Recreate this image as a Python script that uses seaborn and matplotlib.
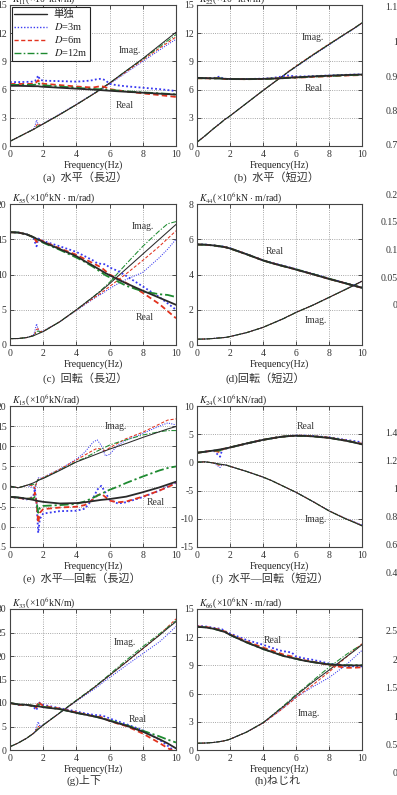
import matplotlib
matplotlib.use("Agg")
import matplotlib.pyplot as plt
from matplotlib.lines import Line2D
import pandas as pd
import seaborn as sns

# frequency grid (Hz)
freq = [0, 0.5, 1, 1.4, 1.5, 1.6, 1.7, 1.8, 2, 3, 4, 4.5, 5, 5.25, 5.5, 5.75, 6, 6.5, 7, 8, 9, 9.5, 10]

# (a) K11 horizontal, long side
a_re_single = [6.40, 6.40, 6.38, 6.36, 6.36, 6.36, 6.36, 6.33, 6.30, 6.20, 6.10, 6.05, 6.00, 5.97, 5.94, 5.91, 5.88, 5.82, 5.77, 5.67, 5.57, 5.52, 5.47]
a_re_d3 = [6.80, 6.80, 6.82, 6.85, 6.90, 7.15, 7.50, 7.05, 6.95, 6.90, 6.85, 6.90, 7.00, 7.12, 7.15, 7.00, 6.60, 6.45, 6.35, 6.20, 6.05, 5.95, 5.85]
a_re_d6 = [6.60, 6.60, 6.60, 6.62, 6.65, 6.80, 7.00, 6.72, 6.62, 6.48, 6.33, 6.27, 6.22, 6.30, 6.38, 6.25, 6.05, 5.92, 5.80, 5.60, 5.42, 5.32, 5.22]
a_re_d12 = [6.50, 6.50, 6.50, 6.50, 6.52, 6.60, 6.72, 6.52, 6.46, 6.32, 6.20, 6.12, 6.07, 6.05, 6.04, 6.00, 5.96, 5.90, 5.82, 5.70, 5.60, 5.55, 5.48]
a_im_single = [0.50, 0.95, 1.40, 1.75, 1.85, 1.95, 2.05, 2.15, 2.35, 3.35, 4.40, 4.95, 5.50, 5.80, 6.10, 6.40, 6.70, 7.35, 8.00, 9.30, 10.70, 11.40, 12.10]
a_im_d3 = [0.50, 0.95, 1.40, 1.80, 2.10, 2.75, 2.30, 2.20, 2.40, 3.40, 4.45, 5.00, 5.55, 5.80, 6.00, 6.30, 6.60, 7.20, 7.80, 9.00, 10.20, 10.80, 11.35]
a_im_d6 = [0.50, 0.95, 1.40, 1.75, 1.90, 2.20, 2.40, 2.20, 2.35, 3.35, 4.40, 4.95, 5.50, 5.75, 6.00, 6.40, 6.65, 7.30, 7.90, 9.15, 10.40, 11.00, 11.60]
a_im_d12 = [0.50, 0.95, 1.40, 1.75, 1.85, 2.00, 2.15, 2.15, 2.35, 3.35, 4.40, 4.95, 5.50, 5.80, 6.10, 6.40, 6.70, 7.35, 8.00, 9.25, 10.55, 11.20, 11.85]

# (b) K22 horizontal, short side
b_re_single = [7.25, 7.22, 7.20, 7.18, 7.17, 7.16, 7.15, 7.14, 7.13, 7.12, 7.14, 7.17, 7.20, 7.22, 7.25, 7.28, 7.30, 7.35, 7.40, 7.48, 7.55, 7.58, 7.60]
b_re_d3 = [7.25, 7.22, 7.22, 7.40, 7.25, 7.15, 7.15, 7.14, 7.13, 7.13, 7.16, 7.22, 7.35, 7.45, 7.50, 7.45, 7.40, 7.40, 7.43, 7.50, 7.57, 7.60, 7.62]
b_re_d6 = [7.20, 7.20, 7.18, 7.25, 7.18, 7.14, 7.13, 7.12, 7.12, 7.11, 7.13, 7.16, 7.20, 7.24, 7.30, 7.30, 7.28, 7.30, 7.35, 7.42, 7.50, 7.52, 7.55]
b_re_d12 = [7.22, 7.20, 7.19, 7.20, 7.17, 7.15, 7.14, 7.13, 7.12, 7.11, 7.13, 7.16, 7.20, 7.22, 7.25, 7.27, 7.28, 7.33, 7.38, 7.45, 7.52, 7.55, 7.58]
b_im_single = [0.40, 1.10, 1.85, 2.40, 2.55, 2.70, 2.85, 2.95, 3.20, 4.55, 5.90, 6.55, 7.20, 7.50, 7.85, 8.15, 8.45, 9.05, 9.65, 10.80, 11.95, 12.50, 13.10]
b_im_d3 = [0.40, 1.10, 1.85, 2.45, 2.55, 2.70, 2.85, 2.95, 3.20, 4.55, 5.90, 6.55, 7.20, 7.50, 7.80, 8.10, 8.40, 9.00, 9.60, 10.75, 11.90, 12.45, 13.05]
b_im_d6 = [0.40, 1.10, 1.85, 2.40, 2.55, 2.70, 2.85, 2.95, 3.20, 4.55, 5.90, 6.55, 7.20, 7.52, 7.88, 8.20, 8.50, 9.10, 9.70, 10.85, 11.95, 12.50, 13.10]
b_im_d12 = [0.40, 1.10, 1.85, 2.40, 2.55, 2.70, 2.85, 2.95, 3.20, 4.55, 5.90, 6.55, 7.20, 7.50, 7.85, 8.15, 8.47, 9.07, 9.67, 10.82, 11.95, 12.50, 13.10]

# (c) K55 rocking, long side
c_re_single = [16.00, 15.95, 15.70, 15.30, 15.20, 15.05, 14.95, 14.85, 14.60, 13.60, 12.60, 11.90, 11.25, 10.90, 10.55, 10.20, 9.90, 9.30, 8.75, 7.70, 6.70, 6.20, 5.70]
c_re_d3 = [16.00, 15.95, 15.70, 15.30, 14.60, 14.00, 15.10, 15.00, 14.75, 14.00, 13.20, 12.60, 12.00, 11.60, 11.50, 11.45, 11.00, 10.50, 9.80, 8.30, 6.80, 5.90, 5.00]
c_re_d6 = [16.00, 15.95, 15.70, 15.30, 15.00, 14.60, 15.00, 14.90, 14.70, 13.70, 12.80, 12.20, 11.60, 11.30, 11.00, 10.50, 10.00, 9.40, 8.80, 7.40, 5.80, 4.80, 3.80]
c_re_d12 = [16.00, 15.95, 15.70, 15.30, 15.15, 14.90, 14.95, 14.80, 14.50, 13.50, 12.40, 11.80, 11.10, 10.70, 10.30, 9.90, 9.60, 9.00, 8.40, 7.60, 7.20, 7.10, 6.80]
c_im_single = [0.90, 0.92, 1.05, 1.30, 1.40, 1.50, 1.60, 1.70, 1.90, 3.30, 5.00, 5.90, 6.80, 7.25, 7.70, 8.20, 8.70, 9.75, 10.80, 12.90, 15.00, 16.05, 17.10]
c_im_d3 = [0.90, 0.92, 1.05, 1.40, 2.00, 3.00, 2.20, 1.90, 2.00, 3.30, 4.90, 5.70, 6.50, 6.90, 7.20, 7.60, 8.00, 8.70, 9.30, 10.30, 12.40, 13.60, 15.00]
c_im_d6 = [0.90, 0.92, 1.05, 1.35, 1.60, 2.20, 2.30, 1.90, 1.95, 3.30, 4.95, 5.80, 6.60, 7.00, 7.40, 7.85, 8.30, 9.20, 10.10, 12.00, 14.00, 15.10, 16.20]
c_im_d12 = [0.90, 0.92, 1.05, 1.30, 1.45, 1.90, 2.00, 1.80, 1.90, 3.30, 5.00, 5.90, 6.80, 7.30, 7.80, 8.35, 8.90, 10.20, 11.50, 14.00, 16.20, 17.20, 17.50]

# (d) K44 rocking, short side
d_re_single = [5.70, 5.69, 5.65, 5.60, 5.58, 5.57, 5.55, 5.53, 5.48, 5.15, 4.80, 4.66, 4.53, 4.47, 4.41, 4.35, 4.28, 4.15, 4.02, 3.75, 3.50, 3.37, 3.25]
d_re_d3 = [5.72, 5.70, 5.66, 5.58, 5.60, 5.58, 5.56, 5.54, 5.49, 5.16, 4.81, 4.67, 4.55, 4.49, 4.43, 4.37, 4.30, 4.17, 4.04, 3.77, 3.51, 3.38, 3.25]
d_re_d6 = [5.70, 5.69, 5.65, 5.59, 5.58, 5.57, 5.55, 5.53, 5.48, 5.15, 4.80, 4.66, 4.53, 4.47, 4.41, 4.35, 4.28, 4.15, 4.02, 3.75, 3.50, 3.37, 3.24]
d_re_d12 = [5.70, 5.69, 5.65, 5.60, 5.58, 5.57, 5.55, 5.53, 5.48, 5.15, 4.80, 4.66, 4.53, 4.47, 4.41, 4.35, 4.29, 4.16, 4.03, 3.76, 3.50, 3.37, 3.25]
d_im_single = [0.33, 0.34, 0.37, 0.40, 0.41, 0.42, 0.43, 0.44, 0.48, 0.70, 1.00, 1.20, 1.40, 1.50, 1.62, 1.73, 1.85, 2.05, 2.25, 2.70, 3.15, 3.38, 3.62]
d_im_d3 = [0.33, 0.34, 0.37, 0.44, 0.41, 0.42, 0.43, 0.44, 0.48, 0.70, 1.00, 1.20, 1.40, 1.51, 1.63, 1.74, 1.86, 2.06, 2.26, 2.71, 3.16, 3.39, 3.63]
d_im_d6 = [0.33, 0.34, 0.37, 0.41, 0.41, 0.42, 0.43, 0.44, 0.48, 0.70, 1.00, 1.20, 1.40, 1.50, 1.62, 1.73, 1.85, 2.05, 2.25, 2.70, 3.15, 3.38, 3.62]
d_im_d12 = [0.33, 0.34, 0.37, 0.40, 0.41, 0.42, 0.43, 0.44, 0.48, 0.70, 1.00, 1.20, 1.40, 1.50, 1.62, 1.73, 1.85, 2.05, 2.25, 2.70, 3.15, 3.38, 3.61]

# (e) K15 sway-rocking, long side
e_re_single = [-2.55, -2.70, -3.00, -3.30, -3.40, -3.50, -3.60, -3.65, -3.80, -4.20, -4.10, -3.90, -3.60, -3.45, -3.30, -3.20, -3.10, -2.80, -2.50, -1.40, -0.20, 0.50, 1.20]
e_re_d3 = [-2.55, -2.80, -3.20, -2.50, -0.50, -4.00, -11.50, -8.00, -6.70, -6.10, -6.00, -5.50, -3.00, -0.80, 0.20, -1.50, -3.30, -4.20, -3.90, -2.60, -1.00, 0.00, 1.00]
e_re_d6 = [-2.55, -2.80, -3.10, -2.80, -1.50, -4.00, -9.00, -6.50, -5.60, -5.20, -5.00, -4.60, -3.20, -2.20, -1.80, -2.60, -3.50, -3.90, -3.70, -2.50, -1.00, -0.10, 0.80]
e_re_d12 = [-2.55, -2.75, -3.00, -3.00, -2.50, -3.80, -6.50, -5.30, -4.80, -4.60, -4.30, -3.70, -2.80, -2.30, -1.80, -1.30, -0.80, 0.00, 0.90, 2.50, 4.00, 4.60, 5.00]
e_im_single = [0.10, -0.30, 0.30, 0.90, 1.10, 1.30, 1.50, 1.70, 2.00, 4.00, 6.10, 6.90, 7.70, 8.10, 8.50, 8.90, 9.30, 10.00, 10.70, 12.20, 13.60, 14.30, 14.90]
e_im_d3 = [0.10, -0.30, 0.30, -0.30, -1.00, 1.00, 2.20, 2.00, 2.30, 4.30, 6.80, 8.50, 11.00, 11.60, 10.20, 7.60, 8.00, 10.30, 11.50, 13.20, 15.00, 15.80, 15.30]
e_im_d6 = [0.10, -0.30, 0.30, 0.30, -0.50, 1.00, 1.80, 1.90, 2.20, 4.30, 6.60, 7.80, 9.00, 9.50, 9.30, 8.90, 9.60, 10.80, 11.90, 13.50, 15.50, 16.50, 16.80]
e_im_d12 = [0.10, -0.30, 0.30, 0.60, 0.20, 1.20, 1.70, 1.80, 2.10, 4.10, 6.20, 7.10, 8.20, 8.80, 9.30, 9.80, 10.30, 11.00, 11.60, 12.80, 13.60, 13.90, 13.90]

# (f) K24 sway-rocking, short side
f_re_single = [1.70, 1.90, 2.10, 2.30, 2.35, 2.40, 2.45, 2.50, 2.65, 3.35, 4.00, 4.25, 4.50, 4.58, 4.65, 4.70, 4.72, 4.70, 4.62, 4.35, 3.85, 3.55, 3.20]
f_re_d3 = [1.70, 1.90, 2.10, 1.00, 2.00, 2.40, 2.45, 2.50, 2.65, 3.35, 4.00, 4.25, 4.50, 4.58, 4.65, 4.72, 4.75, 4.75, 4.70, 4.45, 4.00, 3.80, 3.55]
f_re_d6 = [1.70, 1.90, 2.10, 1.80, 2.20, 2.40, 2.45, 2.50, 2.65, 3.35, 4.00, 4.25, 4.50, 4.58, 4.65, 4.70, 4.73, 4.72, 4.65, 4.38, 3.90, 3.60, 3.30]
f_re_d12 = [1.70, 1.90, 2.10, 2.10, 2.30, 2.40, 2.45, 2.50, 2.65, 3.35, 4.00, 4.25, 4.50, 4.58, 4.65, 4.70, 4.72, 4.70, 4.63, 4.36, 3.87, 3.57, 3.25]
f_im_single = [0.05, 0.10, -0.10, -0.30, -0.35, -0.40, -0.45, -0.50, -0.70, -1.60, -2.60, -3.20, -3.90, -4.25, -4.60, -4.95, -5.30, -6.10, -6.90, -8.60, -10.00, -10.60, -11.25]
f_im_d3 = [0.05, 0.10, -0.10, -0.90, -0.45, -0.40, -0.45, -0.50, -0.70, -1.60, -2.60, -3.20, -3.90, -4.25, -4.60, -4.95, -5.30, -6.10, -6.90, -8.55, -9.90, -10.50, -11.10]
f_im_d6 = [0.05, 0.10, -0.10, -0.60, -0.40, -0.40, -0.45, -0.50, -0.70, -1.60, -2.60, -3.20, -3.90, -4.25, -4.60, -4.95, -5.30, -6.10, -6.90, -8.58, -9.95, -10.55, -11.20]
f_im_d12 = [0.05, 0.10, -0.10, -0.40, -0.37, -0.40, -0.45, -0.50, -0.70, -1.60, -2.60, -3.20, -3.90, -4.25, -4.60, -4.95, -5.30, -6.10, -6.90, -8.60, -10.00, -10.60, -11.25]

# (g) K33 vertical
g_re_single = [10.00, 9.70, 9.60, 9.40, 9.35, 9.30, 9.30, 9.25, 9.10, 8.70, 7.90, 7.55, 7.20, 7.00, 6.75, 6.50, 6.20, 5.70, 5.20, 3.90, 2.30, 1.40, 0.35]
g_re_d3 = [10.00, 9.60, 9.60, 9.30, 8.80, 8.50, 10.20, 10.00, 9.60, 8.90, 8.20, 7.80, 7.50, 7.40, 7.35, 7.10, 6.70, 6.10, 5.50, 4.20, 2.20, 0.90, -0.50]
g_re_d6 = [10.00, 9.60, 9.60, 9.35, 9.00, 9.10, 10.30, 9.90, 9.40, 8.80, 8.00, 7.60, 7.20, 7.10, 7.00, 6.60, 6.20, 5.60, 5.10, 3.50, 1.50, 0.40, -0.50]
g_re_d12 = [10.00, 9.70, 9.60, 9.40, 9.30, 9.30, 9.70, 9.50, 9.20, 8.70, 7.90, 7.55, 7.20, 7.00, 6.80, 6.55, 6.30, 5.80, 5.30, 4.10, 2.90, 2.20, 1.60]
g_im_single = [0.70, 1.50, 2.50, 3.50, 3.80, 4.10, 4.40, 4.70, 5.30, 7.90, 10.50, 11.80, 13.10, 13.80, 14.50, 15.20, 15.90, 17.30, 18.70, 21.60, 24.40, 25.90, 27.30]
g_im_d3 = [0.70, 1.50, 2.50, 3.50, 3.90, 5.00, 6.00, 5.00, 5.40, 7.90, 10.40, 11.60, 12.80, 13.40, 14.10, 14.80, 15.40, 16.70, 18.00, 20.50, 23.00, 24.60, 26.30]
g_im_d6 = [0.70, 1.50, 2.50, 3.50, 3.85, 4.40, 5.00, 4.80, 5.30, 7.90, 10.50, 11.80, 13.10, 13.80, 14.50, 15.20, 15.90, 17.30, 18.70, 21.50, 24.50, 26.20, 27.90]
g_im_d12 = [0.70, 1.50, 2.50, 3.50, 3.80, 4.20, 4.60, 4.70, 5.30, 7.95, 10.60, 11.90, 13.20, 13.90, 14.60, 15.35, 16.10, 17.60, 19.10, 22.00, 24.70, 26.10, 27.50]

# (h) K66 torsion
h_re_single = [13.10, 13.05, 12.90, 12.70, 12.65, 12.60, 12.55, 12.45, 12.25, 11.45, 10.75, 10.45, 10.15, 10.00, 9.90, 9.80, 9.70, 9.50, 9.35, 9.10, 9.00, 9.00, 9.00]
h_re_d3 = [13.20, 13.15, 13.00, 12.90, 12.85, 12.75, 12.65, 12.55, 12.40, 11.70, 11.20, 10.90, 10.60, 10.50, 10.45, 10.35, 9.95, 9.75, 9.60, 9.20, 8.95, 8.90, 8.90]
h_re_d6 = [13.15, 13.10, 12.95, 12.80, 12.75, 12.65, 12.60, 12.50, 12.30, 11.55, 10.90, 10.60, 10.30, 10.15, 10.05, 9.95, 9.75, 9.55, 9.40, 9.05, 8.75, 8.75, 8.80]
h_re_d12 = [13.10, 13.05, 12.90, 12.72, 12.66, 12.60, 12.55, 12.45, 12.25, 11.45, 10.75, 10.45, 10.15, 10.00, 9.90, 9.80, 9.70, 9.50, 9.35, 9.12, 9.02, 9.02, 9.02]
h_im_single = [0.72, 0.74, 0.80, 0.90, 0.93, 0.96, 1.00, 1.04, 1.15, 1.90, 2.90, 3.60, 4.30, 4.65, 5.00, 5.40, 5.80, 6.50, 7.20, 8.50, 9.85, 10.50, 11.20]
h_im_d3 = [0.72, 0.74, 0.80, 0.90, 0.93, 0.96, 1.00, 1.04, 1.15, 1.90, 2.85, 3.50, 4.15, 4.50, 4.85, 5.20, 5.60, 6.15, 6.70, 7.70, 9.00, 9.80, 10.60]
h_im_d6 = [0.72, 0.74, 0.80, 0.90, 0.93, 0.96, 1.00, 1.04, 1.15, 1.90, 2.85, 3.50, 4.15, 4.50, 4.85, 5.20, 5.60, 6.25, 6.90, 8.30, 9.80, 10.60, 11.30]
h_im_d12 = [0.72, 0.74, 0.80, 0.90, 0.93, 0.96, 1.00, 1.04, 1.15, 1.90, 2.90, 3.60, 4.35, 4.72, 5.10, 5.50, 5.90, 6.60, 7.35, 8.80, 10.10, 10.70, 11.20]

series_names = ["単独", "$D$=3m", "$D$=6m", "$D$=12m"]
xticks = [0, 2, 4, 6, 8, 10]
yticks_a = [0, 3, 6, 9, 12, 15]
yticks_b = [0, 3, 6, 9, 12, 15]
yticks_c = [0, 5, 10, 15, 20]
yticks_d = [0, 2, 4, 6, 8]
yticks_e = [-15, -10, -5, 0, 5, 10, 15, 20]
yticks_f = [-15, -10, -5, 0, 5, 10]
yticks_g = [0, 5, 10, 15, 20, 25, 30]
yticks_h = [0, 3, 6, 9, 12, 15]

# tick labels of the neighbouring (cropped) column
side_ticks_1 = [0.7, 0.8, 0.9, 1.0, 1.1]
side_ticks_2 = [0, 0.05, 0.1, 0.15, 0.2]
side_ticks_3 = [0.4, 0.6, 0.8, 1.0, 1.2, 1.4]
side_ticks_4 = [0, 0.5, 1, 1.5, 2, 2.5]

colors = {"単独": "#2a2a2a", "$D$=3m": "#3838f0", "$D$=6m": "#e2321e", "$D$=12m": "#1e8a30"}
dashes = {"単独": "", "$D$=3m": (1, 1.3), "$D$=6m": (3, 1.8), "$D$=12m": (5, 1.6, 1.2, 1.6)}
draw_order = ["$D$=3m", "$D$=6m", "$D$=12m", "単独"]


def long_df(re_lists, im_lists):
    parts = []
    for name, re, im in zip(series_names, re_lists, im_lists):
        parts.append(pd.DataFrame({"freq": freq, "value": re, "series": name, "part": "Real"}))
        parts.append(pd.DataFrame({"freq": freq, "value": im, "series": name, "part": "Imag."}))
    return pd.concat(parts, ignore_index=True)


sns.set_theme(style="ticks")
plt.rcParams["font.family"] = ["Liberation Serif", "Noto Sans CJK JP"]
plt.rcParams["mathtext.fontset"] = "stix"
plt.rcParams["axes.unicode_minus"] = False

W, H = 397.0, 795.0
fig = plt.figure(figsize=(W / 100, H / 100), dpi=100)


def add_ax(left, top, w, h):
    return fig.add_axes([left / W, 1 - (top + h) / H, w / W, h / H])


panels = [
    # re lists, im lists, yticks, K label, caption, col, row, caption x, Imag pos, Real pos
    ([a_re_single, a_re_d3, a_re_d6, a_re_d12], [a_im_single, a_im_d3, a_im_d6, a_im_d12], yticks_a,
     r"$K_{11}$(×10$^{5}$kN/m)", "(a)  水平（長辺）", 0, 0, 85, (7.2, 10.2), (6.9, 4.3)),
    ([b_re_single, b_re_d3, b_re_d6, b_re_d12], [b_im_single, b_im_d3, b_im_d6, b_im_d12], yticks_b,
     r"$K_{22}$(×10$^{5}$ kN/m)", "(b)  水平（短辺）", 1, 0, 277, (7.0, 11.5), (7.1, 6.1)),
    ([c_re_single, c_re_d3, c_re_d6, c_re_d12], [c_im_single, c_im_d3, c_im_d6, c_im_d12], yticks_c,
     r"$K_{55}$(×10$^{6}$kN $\cdot$ m/rad)", "(c)  回転（長辺）", 0, 1, 85, (8.0, 16.8), (8.1, 3.9)),
    ([d_re_single, d_re_d3, d_re_d6, d_re_d12], [d_im_single, d_im_d3, d_im_d6, d_im_d12], yticks_d,
     r"$K_{44}$(×10$^{6}$kN $\cdot$ m/rad)", "(d)回転（短辺）", 1, 1, 265, (7.2, 1.37), (4.7, 5.3)),
    ([e_re_single, e_re_d3, e_re_d6, e_re_d12], [e_im_single, e_im_d3, e_im_d6, e_im_d12], yticks_e,
     r"$K_{15}$(×10$^{6}$kN/rad)", "(e)  水平—回転（長辺）", 0, 2, 82, (6.4, 14.9), (8.8, -4.0)),
    ([f_re_single, f_re_d3, f_re_d6, f_re_d12], [f_im_single, f_im_d3, f_im_d6, f_im_d12], yticks_f,
     r"$K_{24}$(×10$^{6}$kN/rad)", "(f)  水平—回転（短辺）", 1, 2, 270, (7.2, -10.2), (6.6, 6.3)),
    ([g_re_single, g_re_d3, g_re_d6, g_re_d12], [g_im_single, g_im_d3, g_im_d6, g_im_d12], yticks_g,
     r"$K_{33}$(×10$^{6}$kN/m)", "(g)上下", 0, 3, 84, (6.9, 22.8), (7.7, 6.4)),
    ([h_re_single, h_re_d3, h_re_d6, h_re_d12], [h_im_single, h_im_d3, h_im_d6, h_im_d12], yticks_h,
     r"$K_{66}$(×10$^{6}$kN $\cdot$ m/rad)", "(h)ねじれ", 1, 3, 278, (6.8, 3.9), (4.6, 11.7)),
]

row_top = [5, 204, 406, 609]
row_h = 141
col_left = [10, 197]
col_w = [166, 165]
caption_y = [177, 378, 578, 780]

for i, (re_l, im_l, yt, klabel, caption, col, row, cap_x, imag_pos, real_pos) in enumerate(panels):
    ax = add_ax(col_left[col], row_top[row], col_w[col], row_h)
    df = long_df(re_l, im_l)
    for part, lw in [("Imag.", 0.75), ("Real", 1.3)]:
        sns.lineplot(data=df[df["part"] == part], x="freq", y="value", hue="series", style="series",
                     hue_order=draw_order, style_order=draw_order, palette=colors, dashes=dashes,
                     estimator=None, sort=False, lw=lw, legend=False, ax=ax)
    ax.set_xlim(0, 10)
    ax.set_ylim(yt[0], yt[-1])
    ax.set_xticks(xticks)
    ax.set_yticks(yt)
    ax.grid(True, ls=":", color="#8c8c8c", lw=0.6)
    ax.tick_params(direction="in", length=3, width=0.6, labelsize=7, pad=3,
                   top=True, right=True, colors="#333333")
    ax.tick_params(axis="y", pad=2.5)
    for s in ax.spines.values():
        s.set_color("#444444")
        s.set_linewidth(0.8)
    ax.set_xlabel("Frequency(Hz)", fontsize=7, labelpad=1, color="#222222")
    ax.set_ylabel("")
    ax.text(0.012, 1.0 + 6 / row_h, klabel, transform=ax.transAxes, fontsize=7,
            ha="left", va="center", color="#222222")
    ax.text(imag_pos[0], imag_pos[1], "Imag.", fontsize=7, ha="center", va="center", color="#333333")
    ax.text(real_pos[0], real_pos[1], "Real", fontsize=7, ha="center", va="center", color="#333333")
    fig.text(cap_x / W, 1 - caption_y[row] / H, caption, fontsize=8, ha="center", va="center",
             color="#333333")
    if i == 0:
        handles = []
        for name in series_names:
            kw = {"dashes": dashes[name]} if dashes[name] else {"ls": "-"}
            handles.append(Line2D([], [], color=colors[name], lw=1.0, **kw))
        leg = ax.legend(handles, series_names, loc="upper left", fontsize=7.5, frameon=True,
                        fancybox=False, edgecolor="#222222", framealpha=1, handlelength=3.2,
                        handletextpad=0.6, labelspacing=0.2, borderpad=0.25, borderaxespad=0.15)
        leg.get_frame().set_linewidth(0.8)

# cropped neighbouring column: only its y tick labels remain visible
side = [(side_ticks_1, 7, 145), (side_ticks_2, 194, 305), (side_ticks_3, 433, 573), (side_ticks_4, 631, 773)]
for ticks, top_px, bot_px in side:
    sax = fig.add_axes([400.5 / W, 1 - bot_px / H, 0.3, (bot_px - top_px) / H])
    sax.set_ylim(ticks[0], ticks[-1])
    sax.set_yticks(ticks)
    sax.set_yticklabels([f"{t:g}" for t in ticks])
    sax.set_xticks([])
    sax.tick_params(axis="y", direction="in", length=3, labelsize=7, pad=2, colors="#333333")
    for s in sax.spines.values():
        s.set_visible(False)

fig.savefig("out.png", dpi=100)
